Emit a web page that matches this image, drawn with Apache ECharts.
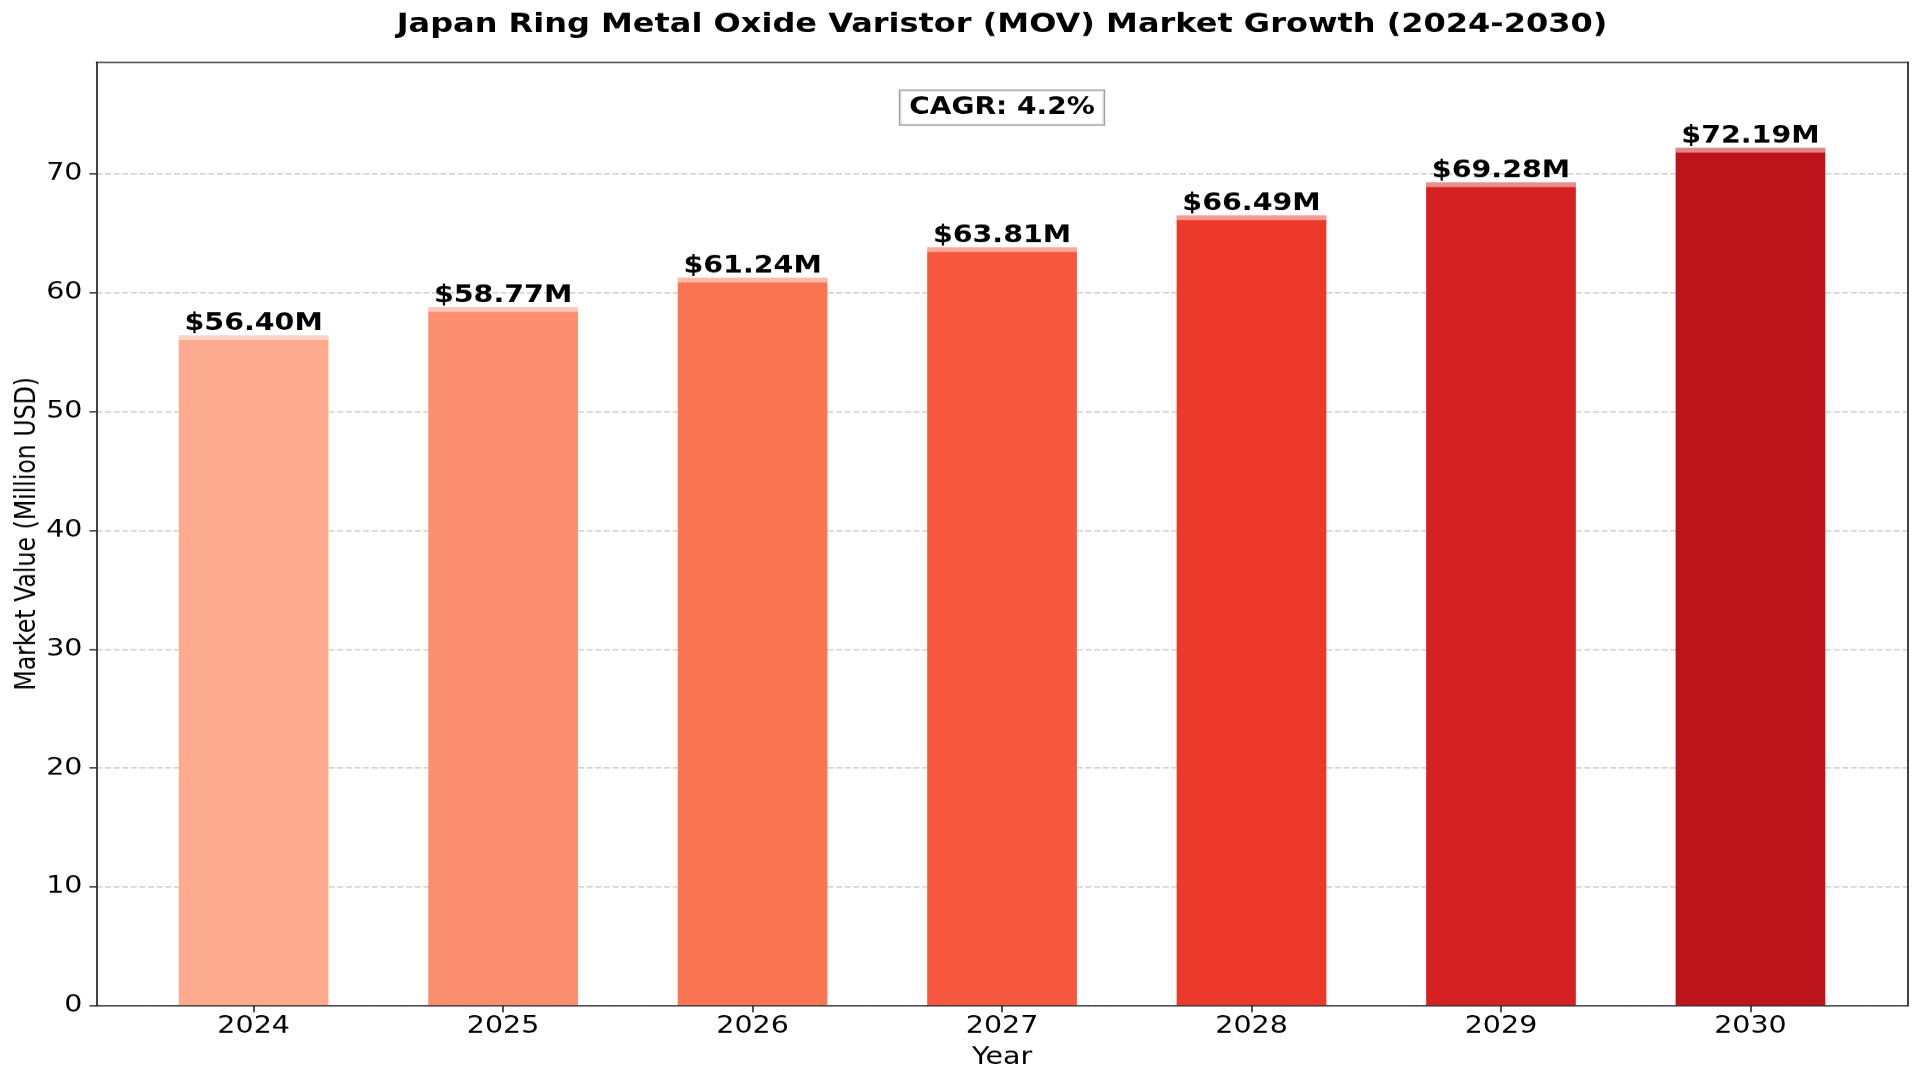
<!DOCTYPE html>
<html>
<head>
<meta charset="utf-8">
<script src="https://cdn.jsdelivr.net/npm/echarts@6/dist/echarts.min.js"></script>
<style>
html, body { margin: 0; padding: 0; background: #fff; overflow: hidden; width: 1920px; height: 1080px; }
#chart { width: 1920px; height: 1280px; transform: scale(1, 0.84375); transform-origin: 0 0; }
</style>
</head>
<body>
<div id="chart"></div>
<script>
const years = ['2024', '2025', '2026', '2027', '2028', '2029', '2030'];
const values = [56.40, 58.77, 61.24, 63.81, 66.49, 69.28, 72.19];
const yTicks = [0, 10, 20, 30, 40, 50, 60, 70];
const barColors = ['#fcab8e', '#fc8f6f', '#fb7555', '#f6573e', '#ed392b', '#d52121', '#bc141a'];

const FONT = '"DejaVu Sans", sans-serif';
const yMax = Math.max(...values) * 1.1;
const cagr = (Math.pow(values[values.length - 1] / values[0], 1 / (values.length - 1)) - 1) * 100;

const chart = echarts.init(document.getElementById('chart'), null, { renderer: 'canvas' });

const frameLine = { show: true, onZero: false, lineStyle: { color: '#222', width: 1.7 } };

const option = {
  animation: false,
  backgroundColor: '#fff',
  title: {
    text: 'Japan Ring Metal Oxide Varistor (MOV) Market Growth (2024-2030)',
    left: 1002,
    top: 14,
    textAlign: 'center',
    padding: 0,
    textStyle: { fontFamily: FONT, fontSize: 32, fontWeight: 'bold', color: '#000', lineHeight: 32 }
  },
  grid: [
    { left: 96.5, right: 12.3, top: 73.5, bottom: 88.2, containLabel: false },
    { left: 128.9, right: 44.8, top: 73.5, bottom: 88.2, containLabel: false }
  ],
  xAxis: [
    { gridIndex: 0, type: 'value', min: 0, max: 1, position: 'bottom', z: 10,
      axisLine: frameLine, axisTick: { show: false }, axisLabel: { show: false }, splitLine: { show: false } },
    { gridIndex: 0, type: 'value', min: 0, max: 1, position: 'top', z: 10,
      axisLine: frameLine, axisTick: { show: false }, axisLabel: { show: false }, splitLine: { show: false } },
    { gridIndex: 1, type: 'category', data: years, position: 'bottom',
      axisLine: { show: false, onZero: false },
      axisTick: { show: true, alignWithLabel: true, length: 8, lineStyle: { color: '#222', width: 1.6 } },
      axisLabel: { fontFamily: FONT, fontSize: 28.5, color: '#000', margin: 10 },
      name: 'Year', nameLocation: 'middle', nameGap: 47,
      nameTextStyle: { fontFamily: FONT, fontSize: 28.5, color: '#000' },
      splitLine: { show: false } }
  ],
  yAxis: [
    { gridIndex: 0, type: 'value', min: 0, max: yMax, interval: 10, position: 'left',
      axisLine: frameLine,
      axisTick: { show: true, length: 7, customValues: yTicks, lineStyle: { color: '#222', width: 1.6 } },
      axisLabel: { fontFamily: FONT, fontSize: 28.5, color: '#000', margin: 14, customValues: yTicks },
      splitLine: { show: true, lineStyle: { color: '#c8c8c8', width: 1.6, type: [6, 2.6] } },
      name: 'Market Value (Million USD)', nameLocation: 'middle', nameGap: 55, nameMoveOverlap: false,
      nameTextStyle: { fontFamily: FONT, fontSize: 28, color: '#000' } },
    { gridIndex: 0, type: 'value', min: 0, max: 1, position: 'right', z: 10,
      axisLine: frameLine, axisTick: { show: false }, axisLabel: { show: false }, splitLine: { show: false } },
    { gridIndex: 1, type: 'value', min: 0, max: yMax, show: false, splitLine: { show: false } }
  ],
  graphic: [
    { type: 'text', x: 1002, y: 127.5, z: 20,
      style: {
        text: 'CAGR: ' + cagr.toFixed(1) + '%',
        font: 'bold 28px "DejaVu Sans"',
        fill: '#000',
        align: 'center', verticalAlign: 'middle',
        textAlign: 'center', textVerticalAlign: 'middle',
        lineHeight: 28,
        backgroundColor: 'rgba(255,255,255,0.8)',
        borderColor: '#a0a0a0', borderWidth: 1.5,
        padding: [6, 9]
      } }
  ],
  series: [
    { type: 'bar', xAxisIndex: 2, yAxisIndex: 2, barWidth: '60%',
      data: values.map((v, i) => ({ value: v, itemStyle: { color: barColors[i] } })),
      label: { show: true, position: 'top', distance: -1,
        formatter: p => '$' + p.value.toFixed(2) + 'M',
        fontFamily: FONT, fontSize: 28.5, fontWeight: 'bold', color: '#000' } },
    { type: 'scatter', xAxisIndex: 2, yAxisIndex: 2, silent: true, z: 3,
      symbol: 'rect', symbolSize: [149.7, 5.5], symbolOffset: [0, 2.75],
      itemStyle: { color: 'rgba(255,255,255,0.62)' },
      data: values }
  ]
};
chart.setOption(option);
</script>
</body>
</html>
